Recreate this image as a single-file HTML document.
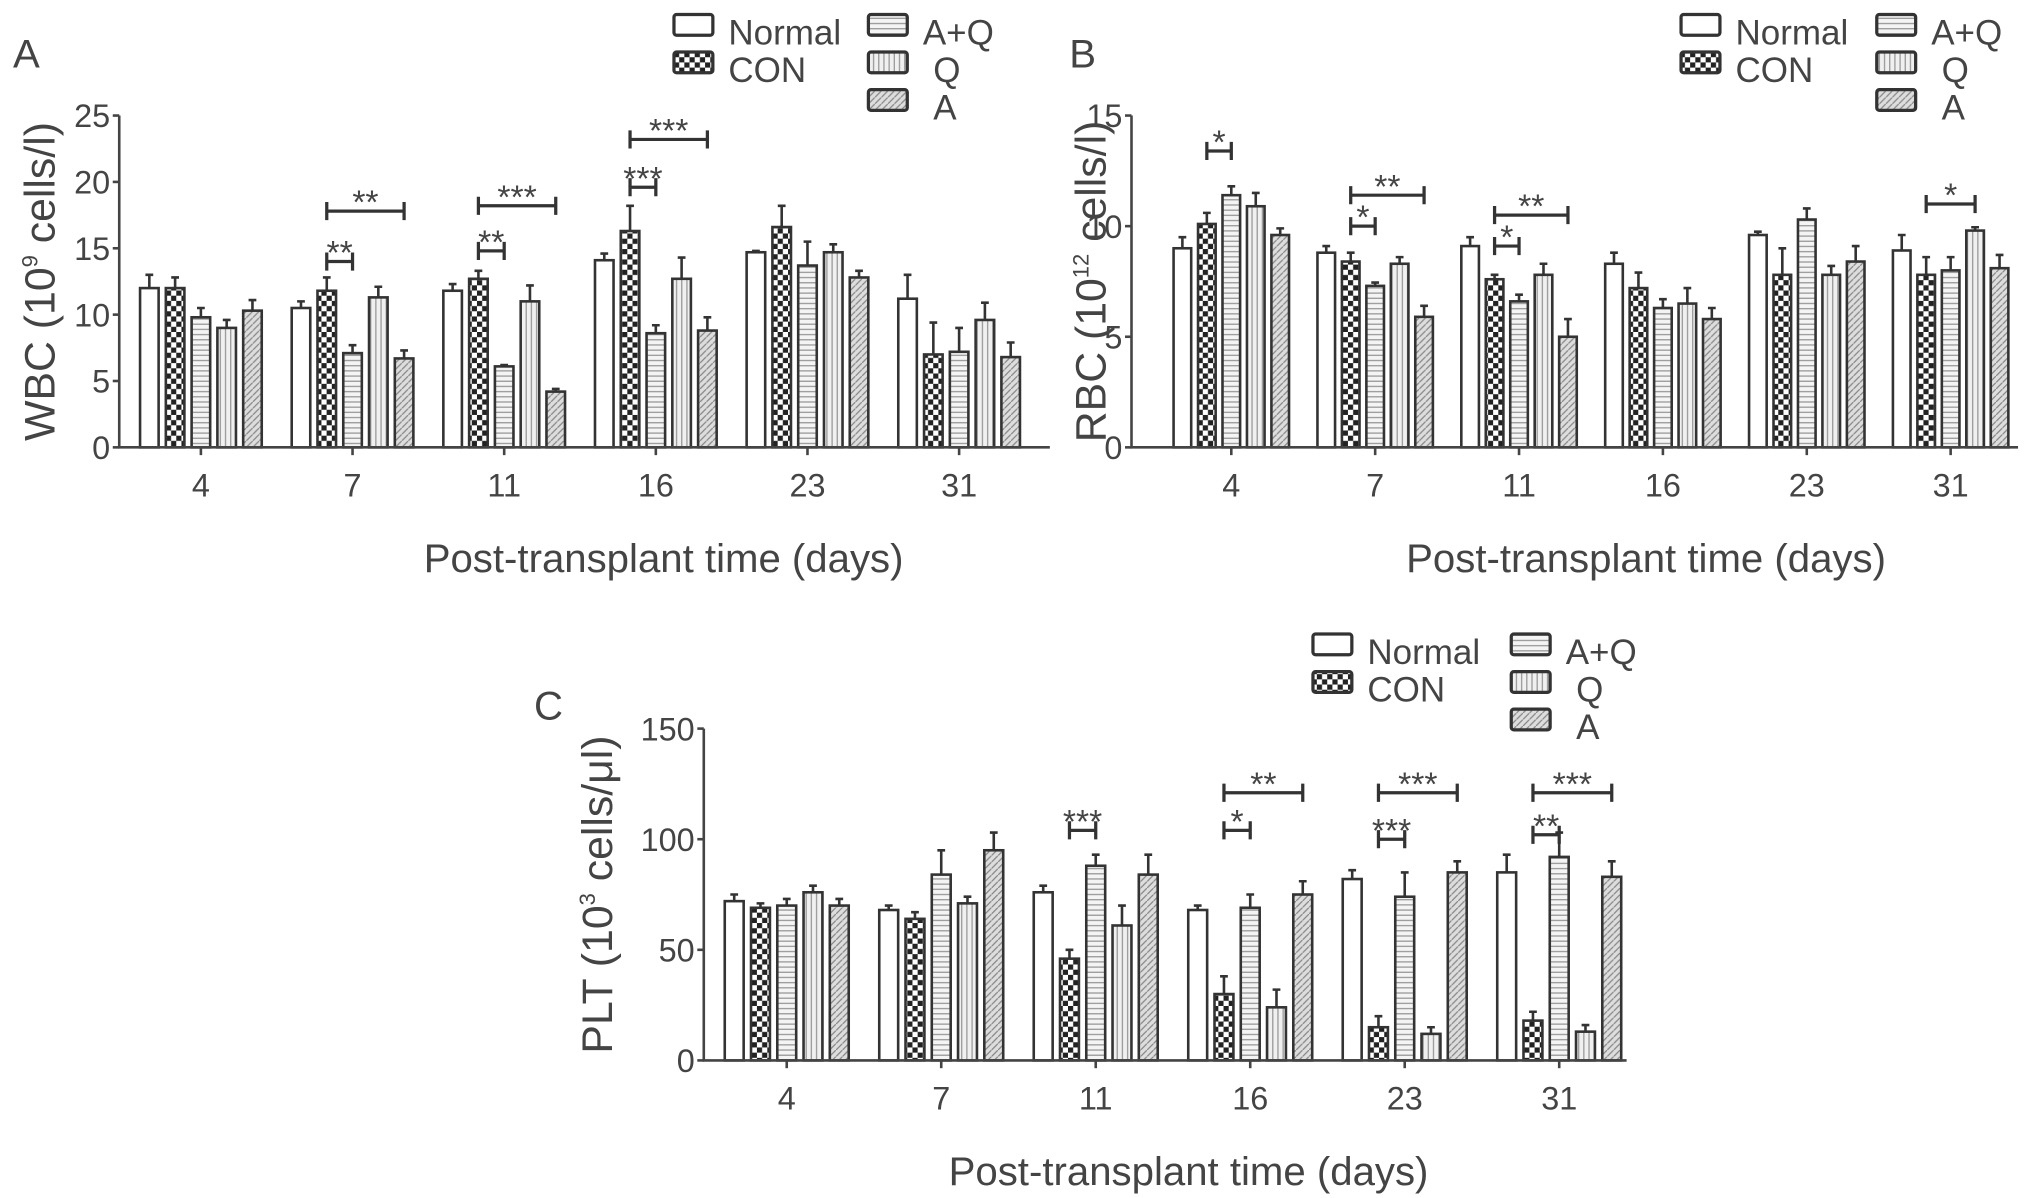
<!DOCTYPE html>
<html><head><meta charset="utf-8"><style>
html,body{margin:0;padding:0;background:#fff}
svg{display:block;font-family:"Liberation Sans",Arial,sans-serif}
</style></head><body>
<svg id="fig" width="2031" height="1198" viewBox="0 0 1567 924" xmlns="http://www.w3.org/2000/svg">
<defs>
<pattern id="pCON" width="8" height="8" patternUnits="userSpaceOnUse"><rect width="8" height="8" fill="#fff"/><rect width="4" height="4" fill="#222"/><rect x="4" y="4" width="4" height="4" fill="#222"/></pattern>
<pattern id="pAQ" width="4" height="4" patternUnits="userSpaceOnUse"><rect width="4" height="4" fill="#f4f4f4"/><line x1="0" y1="2" x2="4" y2="2" stroke="#999" stroke-width="1"/></pattern>
<pattern id="pQ" width="4" height="4" patternUnits="userSpaceOnUse"><rect width="4" height="4" fill="#f0f0f0"/><line x1="2" y1="0" x2="2" y2="4" stroke="#999" stroke-width="1"/></pattern>
<pattern id="pA" width="5" height="5" patternUnits="userSpaceOnUse"><rect width="5" height="5" fill="#ddd"/><line x1="0" y1="5" x2="5" y2="0" stroke="#888" stroke-width="1"/></pattern>
</defs>
</svg>
<script>
const categories=["4","7","11","16","23","31"];
const seriesNames=["Normal","CON","A+Q","Q","A"];
const wbcNormal=[12,10.5,11.8,14.1,14.7,11.2], wbcNormalErr=[1,0.5,0.5,0.5,0.1,1.8];
const wbcCON=[12,11.8,12.7,16.3,16.6,7], wbcCONErr=[0.8,1,0.6,1.9,1.6,2.4];
const wbcAQ=[9.8,7.1,6.1,8.6,13.7,7.2], wbcAQErr=[0.7,0.6,0.1,0.6,1.8,1.8];
const wbcQ=[9,11.3,11,12.7,14.7,9.6], wbcQErr=[0.6,0.8,1.2,1.6,0.6,1.3];
const wbcA=[10.3,6.7,4.2,8.8,12.8,6.8], wbcAErr=[0.8,0.6,0.2,1,0.5,1.1];
const rbcNormal=[9,8.8,9.1,8.3,9.6,8.9], rbcNormalErr=[0.5,0.3,0.4,0.5,0.15,0.7];
const rbcCON=[10.1,8.4,7.6,7.2,7.8,7.8], rbcCONErr=[0.5,0.4,0.2,0.7,1.2,0.8];
const rbcAQ=[11.4,7.3,6.6,6.3,10.3,8], rbcAQErr=[0.4,0.15,0.3,0.4,0.5,0.6];
const rbcQ=[10.9,8.3,7.8,6.5,7.8,9.8], rbcQErr=[0.6,0.3,0.5,0.7,0.4,0.15];
const rbcA=[9.6,5.9,5,5.8,8.4,8.1], rbcAErr=[0.3,0.5,0.8,0.5,0.7,0.6];
const pltNormal=[72,68,76,68,82,85], pltNormalErr=[3,2,3,2,4,8];
const pltCON=[69,64,46,30,15,18], pltCONErr=[2,3,4,8,5,4];
const pltAQ=[70,84,88,69,74,92], pltAQErr=[3,11,5,6,11,11];
const pltQ=[76,71,61,24,12,13], pltQErr=[3,3,9,8,3,3];
const pltA=[70,95,84,75,85,83], pltAErr=[3,8,9,6,5,7];
const wbcTicks=[0,5,10,15,20,25], rbcTicks=[0,5,10,15], pltTicks=[0,50,100,150];
// significance: [group, fromBar, toBar, value, label]
const wbcSig=[[1,1,2,14,"**"],[1,1,4,17.8,"**"],[2,1,2,14.8,"**"],[2,1,4,18.2,"***"],[3,1,2,19.6,"***"],[3,1,4,23.2,"***"]];
const rbcSig=[[0,1,2,13.4,"*"],[1,1,2,10,"*"],[1,1,4,11.4,"**"],[2,1,2,9.1,"*"],[2,1,4,10.5,"**"],[5,1,3,11,"*"]];
const pltSig=[[2,1,2,104,"***"],[3,1,2,104,"*"],[3,1,4,121,"**"],[4,1,2,100,"***"],[4,1,4,121,"***"],[5,1,2,102,"**"],[5,1,4,121,"***"]];

const NS="http://www.w3.org/2000/svg", svg=document.getElementById('fig');
const fills=["#fff","url(#pCON)","url(#pAQ)","url(#pQ)","url(#pA)"];
function mk(tag,at,parent){const e=document.createElementNS(NS,tag);for(const k in at)e.setAttribute(k,at[k]);(parent||svg).appendChild(e);return e;}
function txt(s,at,parent){const e=mk('text',Object.assign({fill:'#444'},at),parent);e.textContent=s;return e;}

function panel(p){
  const g=mk('g',{});
  
  
  const y=v=>p.y0-(v/p.ymax)*(p.y0-p.ytop);
  const cx=i=>p.c0+i*p.sp;
  const pitch=p.sp*0.17, bw=pitch*0.72;
  p.series.forEach((vals,s)=>{
    vals.forEach((v,i)=>{
      const x=cx(i)+(s-2)*pitch-bw/2, e=p.errs[s][i];
      const b=mk('rect',{x:x,y:y(v),width:bw,height:p.y0-y(v),fill:fills[s],stroke:'#333','stroke-width':2},g);
      
      
      const ex=x+bw/2;
      const eb=mk('path',{d:`M${ex},${y(v)}V${y(v+e)}M${ex-3},${y(v+e)}H${ex+3}`,stroke:'#333','stroke-width':2,fill:'none'},g);
      
      
    });
  });
  const ax=mk('path',{d:`M${p.x0},${p.ytop}V${p.y0}H${p.xend}`,stroke:'#444','stroke-width':2,fill:'none'},g);
  
  
  p.ticks.forEach(t=>{
    mk('line',{x1:p.x0-5,x2:p.x0,y1:y(t),y2:y(t),stroke:'#444','stroke-width':2},g);
    const tl=txt(String(t),{x:p.x0-7,y:y(t)+9,'font-size':25,'text-anchor':'end'},g);
    
    
  });
  categories.forEach((c,i)=>{
    mk('line',{x1:cx(i),x2:cx(i),y1:p.y0,y2:p.y0+6,stroke:'#444','stroke-width':2},g);
    const tl=txt(c,{x:cx(i),y:p.y0+38,'font-size':25,'text-anchor':'middle'},g);
    
    
  });
  p.sig.forEach(([gi,a,b,v,l])=>{
    const xa=cx(gi)+(a-2)*pitch, xb=cx(gi)+(b-2)*pitch, yy=y(v);
    const br=mk('path',{d:`M${xa},${yy-7}V${yy+7}M${xa},${yy}H${xb}M${xb},${yy-7}V${yy+7}`,stroke:'#333','stroke-width':2.5,fill:'none'},g);
    
    
    const st=txt(l,{x:(xa+xb)/2,y:yy+2,'font-size':26,'text-anchor':'middle'},g);
    
    
  });
  const yt=txt('',{transform:`translate(${p.ylx},${(p.y0+p.ytop)/2}) rotate(-90)`,'font-size':33,'text-anchor':'middle'},g);
  yt.innerHTML=p.ylab;
  
  
  const xt=txt('Post-transplant time (days)',{x:p.xtx,y:p.y0+96,'font-size':31,'text-anchor':'middle'},g);
  
  
  const pl=txt(p.letter,{x:p.lx,y:p.ly,'font-size':31},g);
  
  
  const pos=[[0,0],[0,1],[1,0],[1,1],[1,2]];
  seriesNames.forEach((n,s)=>{
    const bx=p.legX+pos[s][0]*p.legW, by=p.legY+pos[s][1]*29;
    const le=mk('g',{},g);
    
    
    mk('rect',{x:bx,y:by-17,width:30,height:16,rx:2,fill:fills[s],stroke:'#333','stroke-width':2.5},le);
    txt(n,{x:bx+(n.length<3?50:42),y:by+6,'font-size':27},le);
  });
}
panel({name:'panel-a-wbc',series:[wbcNormal,wbcCON,wbcAQ,wbcQ,wbcA],errs:[wbcNormalErr,wbcCONErr,wbcAQErr,wbcQErr,wbcAErr],
  ticks:wbcTicks,ymax:25,sig:wbcSig,x0:92,xend:810,y0:345,ytop:89,c0:155,sp:117,
  ylab:'WBC (10<tspan font-size="17" dy="-13">9</tspan><tspan dy="13"> cells/l)</tspan>',ylx:42,xtx:512,letter:'A',lx:10,ly:52,legX:520,legY:28,legW:150});
panel({name:'panel-b-rbc',series:[rbcNormal,rbcCON,rbcAQ,rbcQ,rbcA],errs:[rbcNormalErr,rbcCONErr,rbcAQErr,rbcQErr,rbcAErr],
  ticks:rbcTicks,ymax:15,sig:rbcSig,x0:873,xend:1557,y0:345,ytop:89,c0:950,sp:111,
  ylab:'RBC (10<tspan font-size="17" dy="-13">12</tspan><tspan dy="13"> cells/l)</tspan>',ylx:853,xtx:1270,letter:'B',lx:825,ly:52,legX:1297,legY:28,legW:151});
panel({name:'panel-c-plt',series:[pltNormal,pltCON,pltAQ,pltQ,pltA],errs:[pltNormalErr,pltCONErr,pltAQErr,pltQErr,pltAErr],
  ticks:pltTicks,ymax:150,sig:pltSig,x0:543,xend:1255,y0:818,ytop:562,c0:607,sp:119.2,
  ylab:'PLT (10<tspan font-size="17" dy="-13">3</tspan><tspan dy="13"> cells/μl)</tspan>',ylx:472,xtx:917,letter:'C',lx:412,ly:555,legX:1013,legY:506,legW:153});
</script>
</body></html>
